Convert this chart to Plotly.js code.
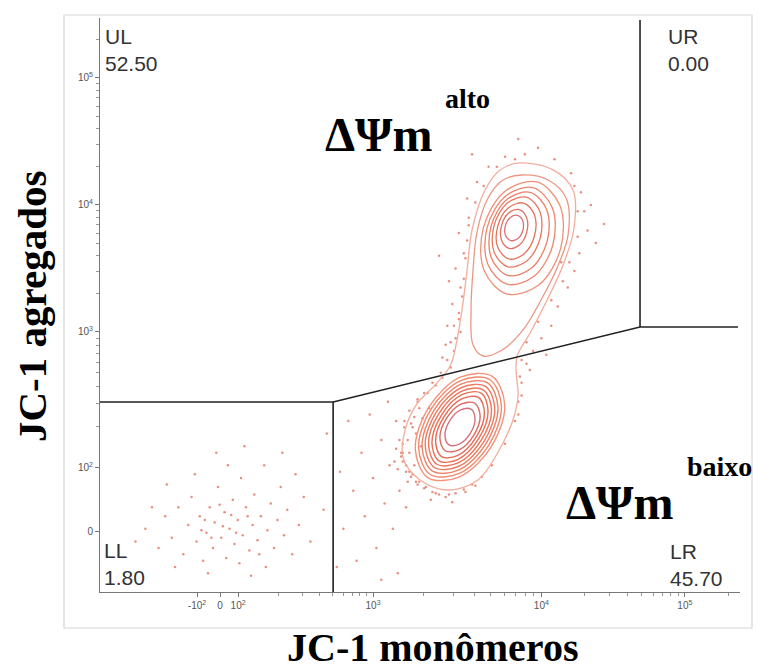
<!DOCTYPE html>
<html><head><meta charset="utf-8">
<script src="https://cdn.plot.ly/plotly-3.0.1.min.js"></script>
<style>body{margin:0;background:#fff}#chart{width:758px;height:670px}</style>
</head><body><div id="chart"></div>
<script>
// Axis units: display ("biexponential") coordinates, 1 unit ~ 1 decade in the log part
const xTickVals = [1.933, 2.073, 2.182, 3.0, 4.02, 4.89];
const xTickText = ['-10<sup>2</sup>', '0', '10<sup>2</sup>', '10<sup>3</sup>', '10<sup>4</sup>', '10<sup>5</sup>'];
const yTickVals = [1.433, 1.93, 3.0, 4.0, 5.0];
const yTickText = ['0', '10<sup>2</sup>', '10<sup>3</sup>', '10<sup>4</sup>', '10<sup>5</sup>'];

// Quadrant gates
const gateX = [1.345, 2.758, 2.758, null, 2.758, 4.618, 5.212, null, 4.618, 4.618];
const gateY = [2.449, 2.449, 0.953, null, 2.449, 3.039, 3.039, null, 3.039, 5.457];

// Quadrant labels and percentages
const quadNames = ['UL', 'UR', 'LL', 'LR'];
const quadValues = ['52.50', '0.00', '1.80', '45.70'];

// Outermost contour (both populations)
const outerX = [3.891,4.091,4.212,4.218,4.152,4.055,3.952,3.873,3.867,3.879,3.848,3.758,3.636,3.455,3.285,3.182,3.194,3.261,3.382,3.467,3.503,3.539,3.570,3.600,3.679,3.770];
const outerY = [4.331,4.276,4.118,3.819,3.528,3.252,2.992,2.811,2.685,2.504,2.307,2.055,1.835,1.756,1.835,2.008,2.228,2.425,2.591,2.732,2.898,3.173,3.488,3.803,4.118,4.276];

// Tail contour of the high-potential population
const tailX = [3.903,4.061,4.170,4.182,4.115,4.018,3.909,3.782,3.667,3.606,3.594,3.606,3.630,3.697,3.788];
const tailY = [4.236,4.197,4.055,3.764,3.504,3.252,3.016,2.858,2.811,2.898,3.173,3.488,3.787,4.055,4.197];

// Nested contours, high-potential population (upper)
const upperRingsX = [
 [3.994,4.133,4.137,4.004,3.812,3.673,3.669,3.802],
 [3.970,4.087,4.090,3.976,3.813,3.695,3.692,3.806],
 [3.953,4.053,4.055,3.957,3.818,3.717,3.715,3.813],
 [3.930,4.012,4.013,3.932,3.817,3.734,3.733,3.814],
 [3.913,3.978,3.978,3.913,3.822,3.756,3.756,3.821],
 [3.886,3.931,3.931,3.887,3.824,3.779,3.779,3.823],
 [3.875,3.907,3.908,3.878,3.835,3.803,3.802,3.832]
];
const upperRingsY = [
 [4.181,3.994,3.658,3.370,3.299,3.486,3.822,4.110],
 [4.136,3.976,3.687,3.439,3.376,3.536,3.825,4.073],
 [4.099,3.961,3.713,3.499,3.445,3.583,3.831,4.045],
 [4.061,3.946,3.738,3.559,3.513,3.628,3.836,4.015],
 [4.015,3.923,3.756,3.612,3.575,3.667,3.834,3.978],
 [3.963,3.899,3.784,3.684,3.659,3.723,3.838,3.938],
 [3.918,3.876,3.801,3.736,3.720,3.762,3.837,3.902]
];

// Nested contours, low-potential population (lower)
const lowerRingsX = [
 [3.720,3.798,3.717,3.525,3.334,3.256,3.337,3.529],
 [3.707,3.778,3.702,3.523,3.347,3.276,3.352,3.531],
 [3.694,3.757,3.686,3.521,3.360,3.297,3.368,3.533],
 [3.681,3.738,3.671,3.520,3.373,3.316,3.383,3.534],
 [3.668,3.718,3.656,3.519,3.386,3.336,3.398,3.535],
 [3.655,3.697,3.640,3.516,3.399,3.357,3.414,3.538],
 [3.639,3.675,3.625,3.517,3.415,3.379,3.429,3.537],
 [3.617,3.649,3.609,3.521,3.437,3.405,3.445,3.533],
 [3.594,3.618,3.589,3.523,3.460,3.436,3.465,3.531]
];
const lowerRingsY = [
 [2.652,2.426,2.098,1.860,1.852,2.078,2.406,2.644],
 [2.626,2.416,2.110,1.887,1.878,2.088,2.394,2.617],
 [2.599,2.406,2.123,1.915,1.905,2.098,2.381,2.589],
 [2.572,2.396,2.135,1.943,1.932,2.108,2.369,2.561],
 [2.545,2.386,2.148,1.971,1.959,2.118,2.356,2.533],
 [2.519,2.376,2.160,1.998,1.985,2.128,2.344,2.506],
 [2.485,2.361,2.173,2.031,2.019,2.143,2.331,2.473],
 [2.439,2.337,2.185,2.072,2.065,2.167,2.319,2.432],
 [2.392,2.316,2.202,2.118,2.112,2.188,2.302,2.386]
];

// Individual events outside the contours
const dotX = [
 1.62,1.70,1.74,1.78,1.82,1.85,1.88,1.90,1.93,1.95,1.97,1.99,2.01,2.03,2.04,2.06,2.08,2.10,2.11,2.13,2.15,2.16,2.18,2.20,2.21,2.23,2.25,2.27,2.28,2.30,2.32,2.34,2.36,2.38,2.40,2.42,2.44,2.46,2.48,2.51,2.53,2.55,1.66,1.80,1.92,2.00,2.12,2.19,2.26,2.35,2.45,2.58,2.62,1.56,1.75,2.05,2.22,2.31,1.98,2.09,2.14,1.96,2.07,2.17,2.24,2.02,
 2.70,2.72,2.80,2.82,2.85,2.88,2.90,2.93,2.95,2.98,3.00,3.02,3.05,3.07,3.09,3.10,3.12,3.14,3.16,3.18,3.20,3.22,3.24,3.26,3.15,3.28,3.05,2.78,
 3.20,3.22,3.18,3.24,3.26,3.23,3.28,3.30,3.25,3.32,3.36,3.40,3.44,3.50,3.55,3.60,3.66,3.72,3.80,3.86,3.88,3.90,3.27,3.33,3.38,3.42,3.21,3.19,3.29,3.34,3.15,3.17,3.35,3.48,
 3.47,3.49,3.50,3.45,3.52,3.48,3.53,3.50,3.55,3.52,3.58,3.57,3.63,3.70,3.80,3.92,4.00,4.10,4.20,4.26,4.28,4.30,4.25,4.22,4.18,4.12,4.08,4.02,3.97,3.93,4.32,4.35,4.14,3.44,3.46,3.60,3.88,3.95,4.05,4.40,3.40,3.42,
 3.17,3.16,3.18,3.20,3.23,3.27,3.31,3.38,3.46,3.56,3.62,3.19,3.22,3.27,3.31,3.14,3.13,3.21,3.25,3.36,3.41,3.45,3.47,3.49,
 3.53,3.52,3.54,3.55,3.56,3.57,3.58,3.62,3.67,3.75,3.86,4.22,4.24,4.24,4.19,4.15,4.08,4.00,3.93,3.90,3.89,3.90,3.88
];
const dotY = [
 1.45,1.30,1.55,1.38,1.62,1.25,1.48,1.70,1.35,1.55,1.20,1.42,1.62,1.30,1.50,1.78,1.38,1.58,1.22,1.45,1.68,1.33,1.52,1.85,1.40,1.62,1.28,1.48,1.72,1.36,1.55,1.95,1.44,1.65,1.30,1.52,1.78,1.40,1.60,1.25,1.88,1.48,1.62,1.15,1.88,1.10,1.95,1.18,1.08,1.15,2.05,1.70,1.35,1.35,1.80,2.05,2.10,1.25,1.52,1.47,1.56,1.44,1.64,1.42,1.55,1.38,
 1.60,2.20,1.90,1.45,2.30,1.75,1.20,2.05,1.55,2.35,1.85,1.30,2.15,1.65,2.45,1.95,1.45,2.30,1.75,2.05,1.62,1.90,2.25,1.82,1.10,2.40,1.05,1.15,
 1.95,2.05,2.12,1.88,2.20,2.28,1.82,2.32,1.95,1.78,1.74,1.72,1.70,1.73,1.76,1.80,1.86,1.95,2.12,2.30,2.45,2.60,2.45,2.52,2.58,2.64,2.15,2.25,2.10,2.40,1.92,2.02,1.68,1.66,
 2.72,2.85,2.95,3.05,3.10,3.22,3.35,3.50,3.62,3.78,3.90,4.05,4.18,4.30,4.38,4.40,4.45,4.36,4.25,4.10,3.95,3.80,3.62,3.48,3.35,3.20,3.05,2.95,2.85,2.75,4.00,3.70,3.55,2.90,3.40,4.40,4.52,2.70,2.82,3.85,3.60,2.80,
 2.05,2.15,1.98,1.90,1.86,1.80,1.77,1.73,1.72,1.74,1.79,2.30,2.38,2.47,2.52,2.08,1.98,1.82,2.33,2.60,2.68,2.78,2.92,3.05,
 3.00,3.15,3.28,3.42,3.58,3.72,3.84,4.02,4.15,4.30,4.36,4.15,3.95,3.75,3.55,3.40,3.25,3.08,2.92,2.78,2.65,2.50,2.35
];

// minor tick multipliers for log decades
const minorMult = [2,3,4,5,6,7,8,9];

function closed(a){ return a.concat([a[0]]); }
function minorTicks(majors, extraEnd){
  const out = [];
  for (let i = 0; i < majors.length; i++) {
    const p0 = majors[i];
    const span = i + 1 < majors.length ? majors[i+1] - p0 : majors[i] - majors[i-1];
    minorMult.forEach(m => { const v = p0 + Math.log10(m) * span; if (v < extraEnd) out.push(v); });
  }
  return out;
}

const traces = [];
traces.push({type:'scatter', mode:'markers', x:dotX, y:dotY, hoverinfo:'skip',
  marker:{size:2.5, color:'rgba(222,96,74,0.7)'}});
traces.push({type:'scatter', mode:'lines', x:closed(outerX), y:closed(outerY), hoverinfo:'skip',
  line:{shape:'spline', smoothing:1, color:'#f3ad9b', width:1.3}});
traces.push({type:'scatter', mode:'lines', x:closed(tailX), y:closed(tailY), hoverinfo:'skip',
  line:{shape:'spline', smoothing:1, color:'#eb9784', width:1.3}});
const upCols = ['#ee9078','#ec876e','#ea8068','#e87a62','#e5745c','#e07060','#d8707a'];
upperRingsX.forEach((rx, i) => traces.push({type:'scatter', mode:'lines', x:closed(rx), y:closed(upperRingsY[i]),
  hoverinfo:'skip', line:{shape:'spline', smoothing:1, color:upCols[i], width:1.3}}));
const loCols = ['#f2937a','#f08a70','#ee8268','#ec7b61','#ea755b','#e87057','#e56a54','#de6a60','#d7707e'];
lowerRingsX.forEach((rx, i) => traces.push({type:'scatter', mode:'lines', x:closed(rx), y:closed(lowerRingsY[i]),
  hoverinfo:'skip', line:{shape:'spline', smoothing:1, color:loCols[i], width:1.4}}));
traces.push({type:'scatter', mode:'lines', x:gateX, y:gateY, hoverinfo:'skip',
  line:{color:'#222', width:1.6}, connectgaps:false});

// pixel helpers (plot area: x 100..740, y 18..592)
const px = x => (x - 100) / 640;
const py = y => (592 - y) / 574;

const quadFont = {family:'Liberation Sans, Arial, sans-serif', size:21, color:'#333'};
const quadPos = [[103, 23], [666, 23], [102, 537], [668, 538]];
const annotations = quadNames.map((n, i) => ({
  xref:'paper', yref:'paper', x:px(quadPos[i][0]), y:py(quadPos[i][1]), xanchor:'left', yanchor:'top',
  text: n + '<br>' + quadValues[i], showarrow:false, align:'left', font:quadFont
}));
const serifBig = {family:'Liberation Serif, Times New Roman, serif', size:48, color:'#000'};
const serifSup = {family:'Liberation Serif, Times New Roman, serif', size:28, color:'#000'};
function centerNote(x, y, text, font, angle){
  return {xref:'paper', yref:'paper', x:px(x), y:py(y), xanchor:'center', yanchor:'middle',
    text:text, showarrow:false, font:font, textangle:angle || 0};
}
annotations.push(centerNote(379, 134, '<b>ΔΨm</b>', serifBig));
annotations.push(centerNote(467, 99, '<b>alto</b>', serifSup));
annotations.push(centerNote(620, 502, '<b>ΔΨm</b>', serifBig));
annotations.push(centerNote(719, 466, '<b>baixo</b>', serifSup));
const titleFont = {family:'Liberation Serif, Times New Roman, serif', size:40, color:'#000'};
annotations.push(centerNote(432, 647, '<b>JC-1 monômeros</b>', titleFont));
annotations.push(centerNote(32, 307, '<b>JC-1 agregados</b>', {family:titleFont.family, size:41, color:'#000'}, -90));

const tickFont = {family:'Liberation Sans, Arial, sans-serif', size:10, color:'#555'};
const layout = {
  width:758, height:670,
  margin:{l:100, r:18, t:18, b:78},
  paper_bgcolor:'#fff', plot_bgcolor:'#fff',
  showlegend:false,
  xaxis:{range:[1.345, 5.224], tickmode:'array', tickvals:xTickVals, ticktext:xTickText, tickangle:0,
    showgrid:false, zeroline:false, showline:true, linecolor:'#777', linewidth:1,
    ticks:'outside', ticklen:4, tickcolor:'#777', tickfont:tickFont,
    minor:{tickmode:'array', tickvals:minorTicks([2.182, 3.0, 4.02, 4.89], 5.224), ticks:'outside', ticklen:3, tickcolor:'#999', showgrid:false}},
  yaxis:{range:[0.953, 5.472], tickmode:'array', tickvals:yTickVals, ticktext:yTickText,
    showgrid:false, zeroline:false, showline:true, linecolor:'#777', linewidth:1,
    ticks:'outside', ticklen:4, tickcolor:'#777', tickfont:tickFont,
    minor:{tickmode:'array', tickvals:minorTicks([1.93, 3.0, 4.0, 5.0], 5.472), ticks:'outside', ticklen:3, tickcolor:'#999', showgrid:false}},
  shapes:[{type:'rect', xref:'paper', yref:'paper', x0:px(64), x1:px(752), y0:py(628), y1:py(15),
    line:{color:'#d6d6d6', width:1.2}, layer:'below'}],
  annotations:annotations
};
Plotly.newPlot('chart', traces, layout, {displayModeBar:false, staticPlot:true});
</script></body></html>
